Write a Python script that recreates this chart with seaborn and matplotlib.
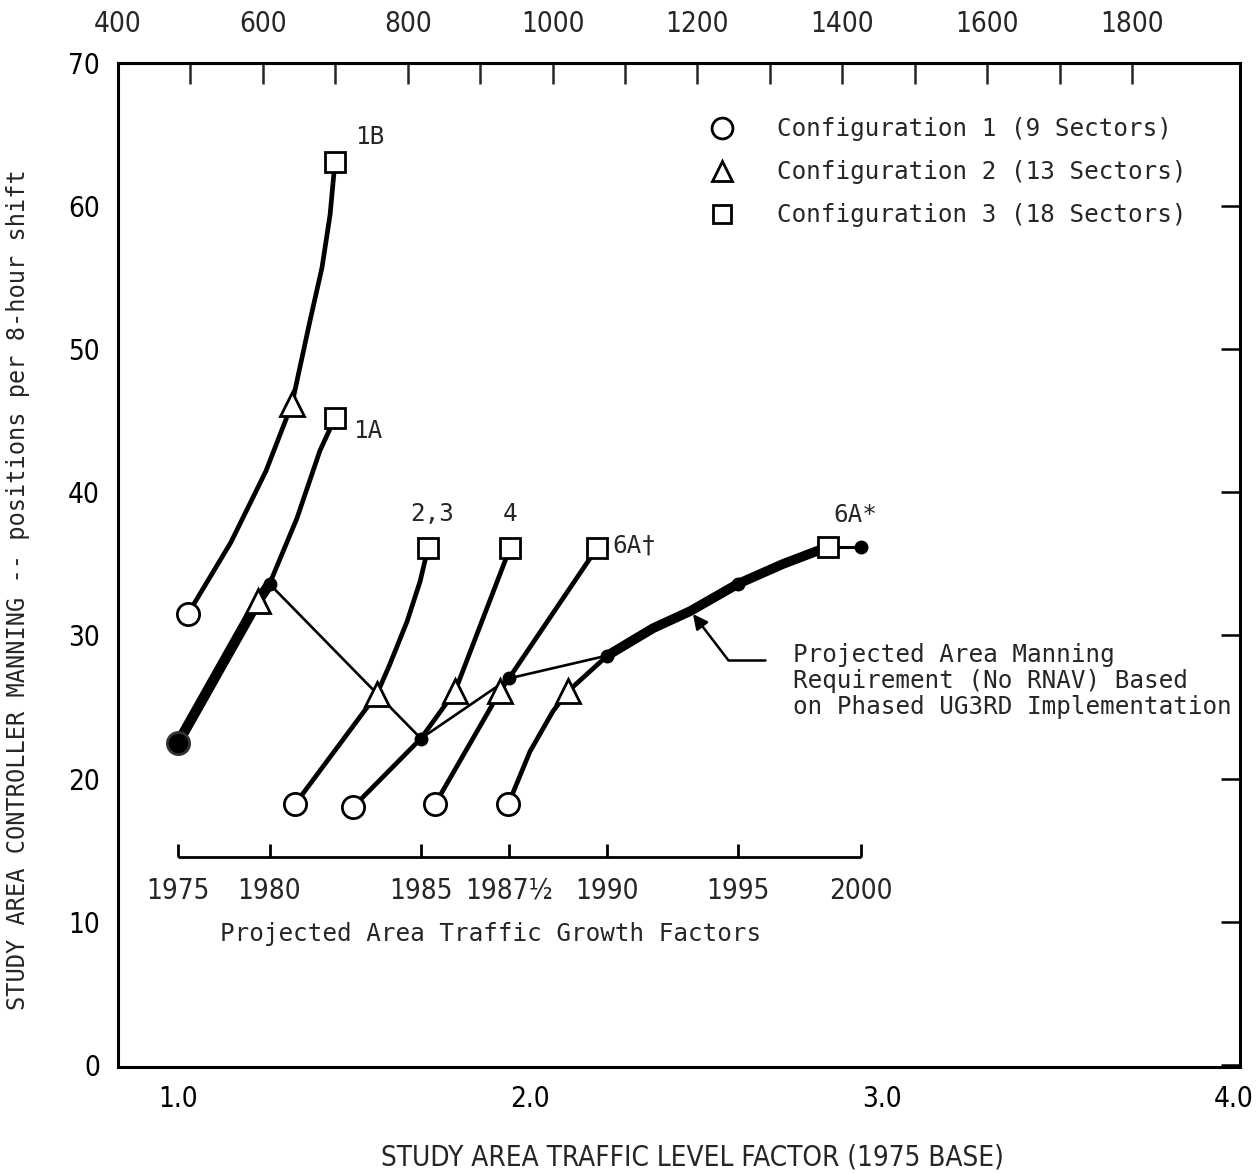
import numpy as np
import matplotlib
matplotlib.use("Agg")
import matplotlib.pyplot as plt
import seaborn as sns
from matplotlib.lines import Line2D

# ---------------------------------------------------------------------------
# Data: study area traffic level factor (1975 base) vs controller manning
# (positions per 8-hour shift) for each sectorisation build-out curve.
# ---------------------------------------------------------------------------
curve_1B_factor = [1.028, 1.15, 1.25, 1.324, 1.375, 1.409, 1.432, 1.446]
curve_1B_manning = [31.5, 36.5, 41.5, 46.2, 52.0, 55.7, 59.4, 63.1]

curve_1A_factor = [1.00, 1.227, 1.26, 1.338, 1.403, 1.446]
curve_1A_manning = [22.5, 32.4, 33.6, 38.2, 42.9, 45.2]

curve_23_factor = [1.332, 1.565, 1.602, 1.651, 1.688, 1.710]
curve_23_manning = [18.2, 25.9, 28.0, 31.0, 33.8, 36.1]

curve_4_factor = [1.497, 1.69, 1.787, 1.943]
curve_4_manning = [18.0, 22.8, 26.1, 36.1]

curve_6Ap_factor = [1.730, 1.915, 1.94, 2.190]
curve_6Ap_manning = [18.2, 26.1, 27.0, 36.1]

curve_6As_factor = [1.938, 2.00, 2.065, 2.108, 2.22, 2.349, 2.455, 2.59, 2.719, 2.847]
curve_6As_manning = [18.2, 21.9, 24.7, 26.1, 28.6, 30.5, 31.7, 33.6, 35.0, 36.2]

# configuration end points
config1_factor = [1.028, 1.332, 1.497, 1.730, 1.938]
config1_manning = [31.5, 18.2, 18.0, 18.2, 18.2]
config2_factor = [1.324, 1.227, 1.565, 1.787, 1.915, 2.108]
config2_manning = [46.2, 32.4, 25.9, 26.1, 26.1, 26.1]
config3_factor = [1.446, 1.446, 1.710, 1.943, 2.190, 2.847]
config3_manning = [63.1, 45.2, 36.1, 36.1, 36.1, 36.2]

curve_labels = ["1B", "1A", "2,3", "4", "6A\u2020", "6A*"]

# phased UG3RD implementation (no RNAV)
phase_years = ["1975", "1980", "1985", "1987\u00bd", "1990", "1995", "2000"]
phase_growth = [1.00, 1.26, 1.69, 1.94, 2.22, 2.59, 2.94]
phase_manning = [22.5, 33.6, 22.8, 27.0, 28.6, 33.6, 36.2]

legend_labels = ["Configuration 1 (9 Sectors)",
                 "Configuration 2 (13 Sectors)",
                 "Configuration 3 (18 Sectors)"]

# ---------------------------------------------------------------------------
sns.set_theme(style="white")
plt.rcParams["font.family"] = ["DejaVu Sans"]
plt.rcParams["font.stretch"] = "condensed"
MONO = ["DejaVu Sans Mono"]
MONO_SIZE = 17.5
NUM = dict(fontsize=20, fontstretch="condensed")

fig = plt.figure(figsize=(12.57, 11.73), dpi=100)
ax = fig.add_axes([118 / 1257, 1 - 1067 / 1173, 1122 / 1257, 1004 / 1173])

LW = 3.4
curves = [
    (curve_1B_factor, curve_1B_manning),
    (curve_1A_factor, curve_1A_manning),
    (curve_23_factor, curve_23_manning),
    (curve_4_factor, curve_4_manning),
    (curve_6Ap_factor, curve_6Ap_manning),
    (curve_6As_factor, curve_6As_manning),
]
for fx, my in curves:
    sns.lineplot(x=fx, y=my, sort=False, estimator=None, color="black",
                 linewidth=LW, ax=ax, zorder=3)

# phased requirement: thick where it follows a curve, thin between curves
sns.lineplot(x=curve_1A_factor[:3], y=curve_1A_manning[:3], sort=False,
             estimator=None, color="black", linewidth=7.5, ax=ax, zorder=4)
sns.lineplot(x=phase_growth[1:5], y=phase_manning[1:5], sort=False,
             estimator=None, color="black", linewidth=1.9, ax=ax, zorder=4)
sns.lineplot(x=curve_6As_factor[4:], y=curve_6As_manning[4:], sort=False,
             estimator=None, color="black", linewidth=7.0, ax=ax, zorder=4)
sns.lineplot(x=[curve_6As_factor[-1], phase_growth[-1]],
             y=[curve_6As_manning[-1], phase_manning[-1]], sort=False,
             estimator=None, color="black", linewidth=2.2, ax=ax, zorder=4)

# configuration markers
mk = dict(ls="none", mfc="white", mec="black", mew=2.0, zorder=6)
ax.plot(config1_factor, config1_manning, marker="o", ms=16, **mk)
ax.plot(config2_factor, config2_manning, marker="^", ms=17, **mk)
ax.plot(config3_factor, config3_manning, marker="s", ms=14, **mk)

# phase year dots
ax.plot(phase_growth[1:], phase_manning[1:], ls="none", marker="o", ms=9,
        color="black", zorder=7)
ax.plot(phase_growth[:1], phase_manning[:1], ls="none", marker="o", ms=16,
        mfc="black", mec="#333333", mew=2, zorder=7)

# curve labels
label_pos = [(1.545, 64.8, "center"), (1.54, 44.3, "center"),
             (1.722, 38.5, "center"), (1.943, 38.5, "center"),
             (2.235, 36.3, "left"), (2.923, 38.4, "center")]
for (lx, ly, ha), txt in zip(label_pos, curve_labels):
    ax.text(lx, ly, txt, family=MONO, fontsize=MONO_SIZE, ha=ha, va="center",
            zorder=8)

# growth factor scale (years)
SCALE_Y = 14.5
ax.hlines(SCALE_Y, phase_growth[0], phase_growth[-1], color="black", lw=2.0)
ax.vlines(phase_growth, SCALE_Y, SCALE_Y + 0.95, color="black", lw=2.0)
for g, yr in zip(phase_growth, phase_years):
    ax.text(g, SCALE_Y - 2.35, yr, ha="center", va="center", **NUM)
ax.text(1.889, 9.15, "Projected Area Traffic Growth Factors", family=MONO,
        fontsize=MONO_SIZE, ha="center", va="center")

# callout for the phased requirement curve
ax.text(2.747, 26.8,
        "Projected Area Manning\nRequirement (No RNAV) Based\non Phased UG3RD Implementation",
        family=MONO, fontsize=MONO_SIZE, ha="left", va="center", linespacing=1.1)
ax.plot([2.668, 2.5625], [28.3, 28.3], color="black", lw=1.8)
ax.annotate("", xy=(2.463, 31.5), xytext=(2.5625, 28.3),
            arrowprops=dict(arrowstyle="-|>", lw=1.8, color="black",
                            mutation_scale=22, shrinkA=0, shrinkB=0))

# legend
handles = [Line2D([], [], ls="none", marker=m, ms=s, mfc="white", mec="black",
                  mew=2.0) for m, s in (("o", 15), ("^", 15), ("s", 13))]
leg = ax.legend(handles, legend_labels, loc="upper left",
                bbox_to_anchor=(0.5276, 0.946), frameon=False, borderpad=0,
                borderaxespad=0, handlelength=1.0, handletextpad=1.75,
                labelspacing=0.78, prop=dict(family=MONO, size=MONO_SIZE))

# axes
ax.set_xlim(0.8295, 4.017)
ax.set_ylim(-0.15, 70)
xt = np.arange(1.0, 4.01, 0.25)
ax.set_xticks(xt)
ax.set_xticklabels([f"{v:.1f}" if abs(v - round(v)) < 1e-9 else "" for v in xt])
ax.xaxis.get_major_ticks()[-1].tick1line.set_visible(False)
ax.set_yticks(np.arange(0, 71, 10))
ax.tick_params(axis="both", direction="in", length=14, width=1.8,
               colors="black", labelsize=20)
ax.tick_params(axis="x", pad=13)
ax.tick_params(axis="y", pad=13, right=True)
for lab in ax.get_xticklabels() + ax.get_yticklabels():
    lab.set_fontstretch("condensed")

for sp in ax.spines.values():
    sp.set_color("black")
    sp.set_linewidth(2.2)


def to_count(f):
    return -3.2 + 486.0 * np.asarray(f)


def to_factor(v):
    return (np.asarray(v) + 3.2) / 486.0


top = ax.secondary_xaxis("top", functions=(to_count, to_factor))
top.set_xticks(np.arange(400, 1801, 200))
top.set_xticks(np.arange(500, 1801, 200), minor=True)
top.tick_params(which="both", direction="in", length=15, width=1.8,
                labelsize=20, pad=18)
for lab in top.get_xticklabels():
    lab.set_fontstretch("condensed")
top.spines["top"].set_linewidth(2.2)

ax.set_xlabel("STUDY AREA TRAFFIC LEVEL FACTOR (1975 BASE)", fontsize=20,
              fontstretch="condensed")
ax.xaxis.set_label_coords(0.5116, -0.0757)
ax.set_ylabel("STUDY AREA CONTROLLER MANNING -- positions per 8-hour shift",
              family=MONO, fontsize=17)
ax.yaxis.set_label_coords(-0.0784, 0.475)

fig.savefig("out.png", dpi=100, facecolor="white")
